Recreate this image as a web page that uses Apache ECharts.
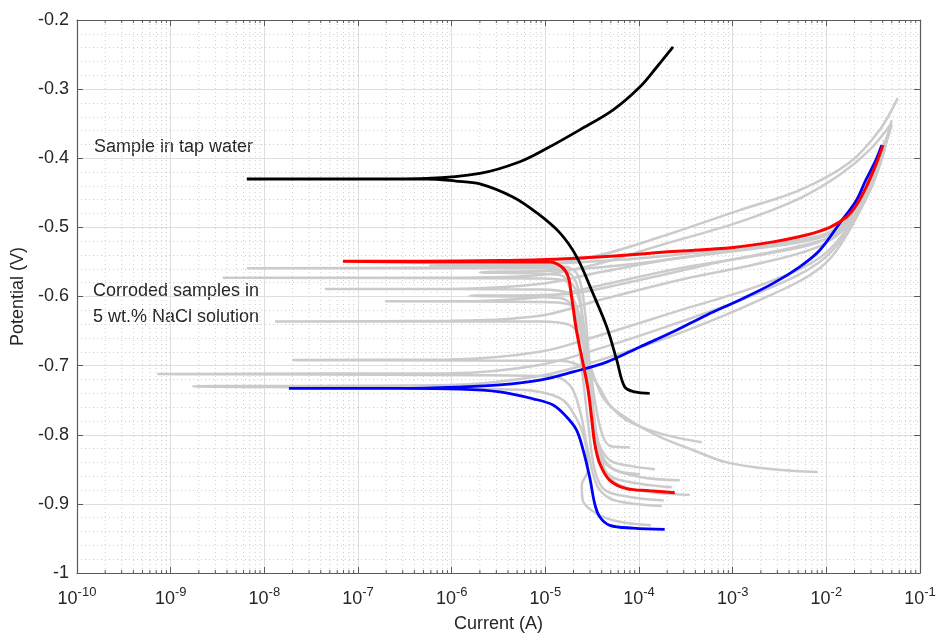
<!DOCTYPE html>
<html>
<head>
<meta charset="utf-8">
<script src="https://cdn.jsdelivr.net/npm/echarts@6.0.0/dist/echarts.min.js"></script>
<style>
html, body { margin: 0; padding: 0; background: #fff; }
#chart { width: 936px; height: 634px; }
</style>
</head>
<body>
<div id="chart"></div>
<script>
// sample in tap water (black), current in A / potential in V
var tapI = [1.30e-4, 9.0e-5, 7.05e-5, 5.79e-5, 4.53e-5, 3.21e-5, 2.17e-5, 1.43e-5, 8.11e-6, 4.50e-6, 2.0e-6, 1.11e-6, 5.43e-7, 8.2e-8, 6.5e-9,
  8.2e-8, 5.43e-7, 2.0e-6, 5.35e-6, 1.03e-5, 2.33e-5, 5.30e-5, 1.02e-4, 1.55e-4, 2.31e-4]
var tapV = [-0.740, -0.738, -0.731, -0.692, -0.644, -0.595, -0.543, -0.508, -0.479, -0.456, -0.437, -0.433, -0.430, -0.430, -0.430,
  -0.430, -0.429, -0.422, -0.405, -0.386, -0.359, -0.330, -0.297, -0.268, -0.239]

// highlighted NaCl sample (red)
var redI = [2.41e-4, 1.30e-4, 7.36e-5, 4.88e-5, 3.82e-5, 3.37e-5, 3.11e-5, 2.86e-5, 2.53e-5, 2.15e-5, 1.905e-5, 1.75e-5, 1.49e-5, 1.12e-5, 3.27e-6, 4.58e-7, 6.9e-8,
  4.58e-7, 3.27e-6, 8.73e-6, 4.50e-5, 2.31e-4, 1.01e-3, 2.70e-3, 6.14e-3, 1.09e-2, 1.64e-2, 2.09e-2, 2.68e-2, 3.43e-2, 4.03e-2]
var redV = [-0.884, -0.881, -0.878, -0.866, -0.842, -0.813, -0.774, -0.735, -0.697, -0.649, -0.600, -0.571, -0.557, -0.550, -0.550, -0.550, -0.549,
  -0.549, -0.548, -0.547, -0.542, -0.535, -0.529, -0.521, -0.511, -0.500, -0.485, -0.468, -0.441, -0.407, -0.381]

// highlighted NaCl sample (blue)
var blueI = [1.88e-4, 8.65e-5, 4.88e-5, 3.82e-5, 3.37e-5, 2.99e-5, 2.53e-5, 2.15e-5, 1.68e-5, 1.21e-5, 7.41e-6, 3.27e-6, 1.22e-6, 2.80e-7, 1.83e-8,
  2.80e-7, 1.22e-6, 3.27e-6, 8.73e-6, 1.98e-5, 4.50e-5, 1.02e-4, 2.31e-4, 5.25e-4, 1.19e-3, 2.70e-3, 5.20e-3, 8.51e-3, 1.39e-2, 2.09e-2, 2.63e-2, 3.37e-2, 3.90e-2]
var blueV = [-0.937, -0.935, -0.931, -0.919, -0.900, -0.863, -0.822, -0.793, -0.774, -0.757, -0.748, -0.738, -0.734, -0.733, -0.733,
  -0.733, -0.731, -0.728, -0.721, -0.709, -0.695, -0.673, -0.651, -0.627, -0.605, -0.581, -0.557, -0.533, -0.494, -0.461, -0.432, -0.403, -0.381]

// other corroded samples (grey)
var grayI = [
  [2.72e-4, 1.02e-4, 5.13e-5, 3.82e-5, 3.21e-5, 2.84e-5, 2.45e-5, 2.12e-5, 1.66e-5, 8.73e-6, 9.57e-7, 6.52e-9, 9.57e-7, 8.73e-6, 3.82e-5, 1.67e-4, 1.19e-3, 5.20e-3, 1.77e-2, 3.71e-2, 5.78e-2],
  [1.48e-4, 7.98e-5, 4.88e-5, 3.63e-5, 2.99e-5, 2.58e-5, 2.22e-5, 1.74e-5, 8.73e-6, 3.61e-9, 9.57e-7, 8.73e-6, 3.82e-5, 1.67e-4, 1.19e-3, 5.20e-3, 1.39e-2, 2.90e-2, 4.99e-2],
  [2.24e-4, 1.02e-4, 5.13e-5, 3.82e-5, 3.13e-5, 2.70e-5, 2.22e-5, 1.74e-5, 8.73e-6, 4.44e-8, 9.57e-7, 8.73e-6, 3.82e-5, 2.72e-4, 1.95e-3, 8.51e-3, 1.77e-2, 2.90e-2, 4.31e-2],
  [7.98e-5, 5.13e-5, 4.11e-5, 3.37e-5, 2.84e-5, 2.33e-5, 1.74e-5, 8.73e-6, 1.94e-7, 9.57e-7, 8.73e-6, 3.82e-5, 2.72e-4, 1.95e-3, 8.51e-3, 1.77e-2, 3.06e-2, 4.75e-2],
  [8.09e-3, 2.68e-3, 8.65e-4, 3.75e-4, 1.67e-4, 7.98e-5, 4.32e-5, 3.13e-5, 2.45e-5, 1.82e-5, 8.73e-6, 1.30e-8, 9.57e-7, 8.73e-6, 3.82e-5, 2.72e-4, 1.95e-3, 8.51e-3, 1.69e-2, 2.77e-2, 4.20e-2],
  [4.68e-4, 1.67e-4, 7.41e-5, 4.88e-5, 3.63e-5, 2.64e-5, 1.43e-5, 2.02e-8, 9.57e-7, 8.73e-6, 3.82e-5, 2.72e-4, 1.95e-3, 8.51e-3, 1.77e-2, 2.90e-2, 4.52e-2],
  [1.75e-4, 7.98e-5, 4.88e-5, 3.55e-5, 2.84e-5, 2.33e-5, 1.82e-5, 1.12e-5, 7.31e-10, 9.57e-7, 8.73e-6, 3.82e-5, 2.72e-4, 1.95e-3, 8.51e-3, 1.77e-2, 3.06e-2, 4.75e-2],
  [1.34e-4, 6.23e-5, 3.63e-5, 2.51e-5, 2.45e-5, 2.84e-5, 2.64e-5, 2.06e-5, 1.43e-5, 5.35e-6, 1.73e-9, 9.57e-7, 8.73e-6, 3.82e-5, 2.72e-4, 1.95e-3, 8.51e-3, 1.77e-2, 3.28e-2, 4.99e-2],
  [3.48e-4, 1.30e-4, 6.23e-5, 4.32e-5, 3.46e-5, 2.99e-5, 2.64e-5, 2.22e-5, 1.61e-5, 5.85e-7, 8.73e-6, 6.23e-5, 4.45e-4, 3.18e-3, 1.09e-2, 2.27e-2, 3.71e-2, 4.99e-2],
  [1.84e-4, 7.98e-5, 4.32e-5, 3.37e-5, 2.84e-5, 2.33e-5, 1.92e-5, 1.43e-5, 2.0e-6, 1.43e-5, 1.02e-4, 7.28e-4, 5.20e-3, 1.39e-2, 2.63e-2, 4.10e-2],
  [1.02e-4, 5.52e-5, 3.82e-5, 3.13e-5, 2.58e-5, 2.01e-5, 1.43e-5, 1.56e-6, 1.43e-5, 1.02e-4, 7.28e-4, 5.20e-3, 1.39e-2, 2.63e-2, 4.20e-2]
]
var grayV = [
  [-0.866, -0.861, -0.848, -0.822, -0.764, -0.692, -0.620, -0.579, -0.563, -0.559, -0.559, -0.559, -0.558, -0.555, -0.540, -0.514, -0.475, -0.446, -0.406, -0.359, -0.313],
  [-0.850, -0.845, -0.837, -0.808, -0.735, -0.649, -0.598, -0.578, -0.574, -0.573, -0.573, -0.569, -0.552, -0.526, -0.492, -0.458, -0.424, -0.388, -0.349],
  [-0.876, -0.871, -0.861, -0.837, -0.779, -0.692, -0.620, -0.595, -0.590, -0.589, -0.589, -0.582, -0.565, -0.544, -0.530, -0.515, -0.492, -0.446, -0.381],
  [-0.818, -0.817, -0.802, -0.750, -0.678, -0.627, -0.611, -0.608, -0.607, -0.607, -0.601, -0.584, -0.559, -0.540, -0.521, -0.492, -0.439, -0.359],
  [-0.854, -0.850, -0.840, -0.822, -0.803, -0.779, -0.750, -0.707, -0.663, -0.641, -0.636, -0.636, -0.635, -0.628, -0.605, -0.576, -0.552, -0.527, -0.497, -0.446, -0.374],
  [-0.811, -0.798, -0.779, -0.757, -0.728, -0.704, -0.693, -0.692, -0.691, -0.680, -0.656, -0.620, -0.584, -0.544, -0.497, -0.439, -0.366],
  [-0.903, -0.899, -0.892, -0.873, -0.822, -0.764, -0.728, -0.715, -0.712, -0.711, -0.699, -0.675, -0.637, -0.594, -0.550, -0.501, -0.439, -0.356],
  [-0.931, -0.926, -0.915, -0.895, -0.873, -0.851, -0.808, -0.772, -0.747, -0.735, -0.730, -0.728, -0.715, -0.692, -0.653, -0.605, -0.559, -0.504, -0.424, -0.352],
  [-0.887, -0.883, -0.873, -0.851, -0.793, -0.707, -0.620, -0.569, -0.557, -0.555, -0.553, -0.547, -0.536, -0.523, -0.507, -0.468, -0.403, -0.345],
  [-0.895, -0.890, -0.880, -0.851, -0.779, -0.678, -0.598, -0.569, -0.565, -0.562, -0.552, -0.536, -0.518, -0.501, -0.453, -0.381],
  [-0.857, -0.851, -0.830, -0.764, -0.678, -0.617, -0.602, -0.599, -0.597, -0.576, -0.550, -0.527, -0.507, -0.460, -0.388]
]

var labels = ['Sample in tap water', 'Corroded samples in', '5 wt.% NaCl solution']

function pairs(xs, ys) {
  return xs.map(function(x, i) { return [x, ys[i]] })
}

// minor grid lines / ticks for the log axis (2..9 in every decade)
var minorX = []
for (var k = -10; k <= -2; k++) {
  for (var m = 2; m <= 9; m++) minorX.push(m * Math.pow(10, k))
}

var font = 'Liberation Sans, Arial, sans-serif'
var textColor = '#262626'
var smooth = 0.35

var series = []
// dotted minor grid on the log axis, with small inside ticks top and bottom
series.push({
  type: 'custom',
  silent: true,
  z: 0,
  data: minorX.map(function(v) { return [v] }),
  renderItem: function(params, api) {
    var v = api.value(0)
    var p0 = api.coord([v, -1])
    var p1 = api.coord([v, -0.2])
    return {
      type: 'group',
      children: [
        { type: 'line', shape: { x1: p0[0], y1: p0[1], x2: p1[0], y2: p1[1] },
          style: { stroke: '#cfcfcf', lineWidth: 1, lineDash: [1, 3] } },
        { type: 'line', shape: { x1: p0[0], y1: p0[1], x2: p0[0], y2: p0[1] - 3 },
          style: { stroke: '#595959', lineWidth: 1 } },
        { type: 'line', shape: { x1: p1[0], y1: p1[1], x2: p1[0], y2: p1[1] + 3 },
          style: { stroke: '#595959', lineWidth: 1 } }
      ]
    }
  }
})
grayI.forEach(function(xs, i) {
  series.push({
    type: 'line',
    data: pairs(xs, grayV[i]),
    showSymbol: false,
    silent: true,
    smooth: smooth,
    lineStyle: { color: '#cbcbcb', width: 2.5 },
    z: 2
  })
})
series.push({ type: 'line', data: pairs(blueI, blueV), showSymbol: false, smooth: smooth, lineStyle: { color: '#0000ff', width: 2.8 }, z: 3 })
series.push({ type: 'line', data: pairs(redI, redV), showSymbol: false, smooth: smooth, lineStyle: { color: '#ff0000', width: 3 }, z: 4 })
series.push({ type: 'line', data: pairs(tapI, tapV), showSymbol: false, smooth: smooth, lineStyle: { color: '#000000', width: 2.8 }, z: 5 })

var chart = echarts.init(document.getElementById('chart'))
var option = {
  animation: false,
  backgroundColor: '#ffffff',
  grid: { left: 77, right: 16, top: 20, bottom: 61, outerBoundsMode: 'none', containLabel: false },
  xAxis: [{
    type: 'log',
    logBase: 10,
    min: 1e-10,
    max: 1e-1,
    splitNumber: 9,
    name: 'Current (A)',
    nameLocation: 'middle',
    nameGap: 42,
    nameTextStyle: { color: textColor, fontSize: 18, fontFamily: font },
    axisLine: { show: true, onZero: false, lineStyle: { color: '#595959', width: 1.2 } },
    axisTick: { show: true, inside: true, length: 6, lineStyle: { color: '#595959' } },
    axisLabel: {
      color: textColor,
      margin: 13,
      formatter: function(v) {
        return '{b|10}{s|' + Math.round(Math.log10(v)) + '}'
      },
      rich: {
        b: { fontSize: 18, fontFamily: font, color: textColor },
        s: { fontSize: 13, fontFamily: font, color: textColor, padding: [0, 0, 14, 0] }
      }
    },
    splitLine: { show: true, lineStyle: { color: '#dedede', width: 1 } }
  }, {
    type: 'log',
    logBase: 10,
    min: 1e-10,
    max: 1e-1,
    splitNumber: 9,
    position: 'top',
    axisLine: { show: true, lineStyle: { color: '#595959', width: 1.2 } },
    axisTick: { show: true, inside: true, length: 6, lineStyle: { color: '#595959' } },
    axisLabel: { show: false },
    splitLine: { show: false }
  }],
  yAxis: [{
    type: 'value',
    min: -1,
    max: -0.2,
    interval: 0.1,
    name: 'Potential (V)',
    nameLocation: 'middle',
    nameGap: 50,
    nameTextStyle: { color: textColor, fontSize: 18, fontFamily: font },
    axisLine: { show: true, lineStyle: { color: '#595959', width: 1.2 } },
    axisTick: { show: true, inside: true, length: 6, lineStyle: { color: '#595959' } },
    axisLabel: { color: textColor, fontSize: 18, fontFamily: font, margin: 8 },
    splitLine: { show: true, lineStyle: { color: '#dedede', width: 1 } },
    minorTick: { show: false, splitNumber: 5 },
    minorSplitLine: { show: true, lineStyle: { color: '#cfcfcf', type: [1, 3], width: 1 } }
  }, {
    type: 'value',
    min: -1,
    max: -0.2,
    interval: 0.1,
    position: 'right',
    axisLine: { show: true, lineStyle: { color: '#595959', width: 1.2 } },
    axisTick: { show: true, inside: true, length: 6, lineStyle: { color: '#595959' } },
    axisLabel: { show: false },
    splitLine: { show: false }
  }],
  graphic: [
    { type: 'text', left: 94, top: 138, silent: true, style: { text: labels[0], fill: textColor, font: '18px ' + font } },
    { type: 'text', left: 93, top: 282, silent: true, style: { text: labels[1], fill: textColor, font: '18px ' + font } },
    { type: 'text', left: 93, top: 308, silent: true, style: { text: labels[2], fill: textColor, font: '18px ' + font } }
  ],
  series: series
}
chart.setOption(option)
</script>
</body>
</html>
